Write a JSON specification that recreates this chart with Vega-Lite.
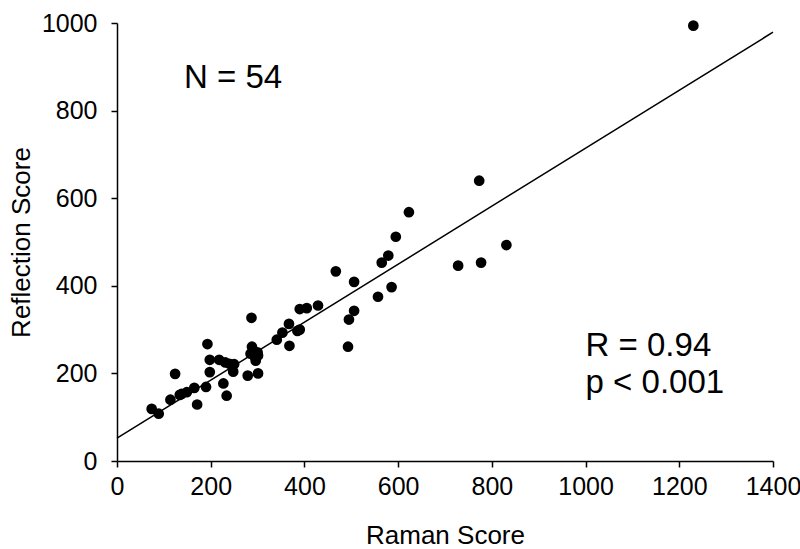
{
  "$schema": "https://vega.github.io/schema/vega-lite/v6.json",
  "autosize": {"type": "none"},
  "padding": {"left": 117, "top": 23, "right": 27, "bottom": 88},
  "width": 656,
  "height": 438,
  "background": "white",
  "config": {
    "view": {"stroke": null},
    "font": "Liberation Sans",
    "axis": {
      "grid": false,
      "domainColor": "black",
      "domainWidth": 1.5,
      "tickColor": "black",
      "tickWidth": 1.5,
      "tickSize": 6,
      "labelColor": "black",
      "labelFont": "Liberation Sans",
      "labelFontSize": 25,
      "titleColor": "black",
      "titleFont": "Liberation Sans",
      "titleFontSize": 26,
      "titleFontWeight": "normal"
    }
  },
  "datasets": {
    "points": [
      {"raman": 1230, "reflection": 994},
      {"raman": 773, "reflection": 640},
      {"raman": 623, "reflection": 568},
      {"raman": 595, "reflection": 512},
      {"raman": 579, "reflection": 469},
      {"raman": 565, "reflection": 453},
      {"raman": 467, "reflection": 433},
      {"raman": 506, "reflection": 409},
      {"raman": 586, "reflection": 397},
      {"raman": 557, "reflection": 375},
      {"raman": 728, "reflection": 446},
      {"raman": 777, "reflection": 453},
      {"raman": 831, "reflection": 493},
      {"raman": 506, "reflection": 343},
      {"raman": 495, "reflection": 323},
      {"raman": 493, "reflection": 261},
      {"raman": 429, "reflection": 355},
      {"raman": 405, "reflection": 349},
      {"raman": 390, "reflection": 347},
      {"raman": 367, "reflection": 313},
      {"raman": 353, "reflection": 293},
      {"raman": 385, "reflection": 297},
      {"raman": 390, "reflection": 300},
      {"raman": 341, "reflection": 277},
      {"raman": 368, "reflection": 263},
      {"raman": 287, "reflection": 327},
      {"raman": 288, "reflection": 261},
      {"raman": 285, "reflection": 245},
      {"raman": 301, "reflection": 241},
      {"raman": 294, "reflection": 238},
      {"raman": 300, "reflection": 248},
      {"raman": 296, "reflection": 229},
      {"raman": 301, "reflection": 200},
      {"raman": 279, "reflection": 195},
      {"raman": 193, "reflection": 267},
      {"raman": 198, "reflection": 231},
      {"raman": 198, "reflection": 203},
      {"raman": 218, "reflection": 231},
      {"raman": 231, "reflection": 225},
      {"raman": 240, "reflection": 222},
      {"raman": 250, "reflection": 221},
      {"raman": 248, "reflection": 204},
      {"raman": 227, "reflection": 177},
      {"raman": 234, "reflection": 149},
      {"raman": 190, "reflection": 169},
      {"raman": 165, "reflection": 167},
      {"raman": 171, "reflection": 129},
      {"raman": 124, "reflection": 199},
      {"raman": 138, "reflection": 153},
      {"raman": 134, "reflection": 151},
      {"raman": 149, "reflection": 157},
      {"raman": 114, "reflection": 140},
      {"raman": 74, "reflection": 119},
      {"raman": 89, "reflection": 108}
    ],
    "fit": [
      {"raman": 0, "reflection": 52},
      {"raman": 1400, "reflection": 979}
    ],
    "labels": [
      {"raman": 143, "reflection": 852, "text": "N = 54"},
      {"raman": 1000, "reflection": 240, "text": "R = 0.94"},
      {"raman": 1000, "reflection": 156, "text": "p < 0.001"}
    ]
  },
  "encoding": {
    "x": {
      "field": "raman",
      "type": "quantitative",
      "scale": {"domain": [0, 1400], "nice": false},
      "axis": {"title": "Raman Score", "format": "d", "values": [0, 200, 400, 600, 800, 1000, 1200, 1400], "labelPadding": 7, "titlePadding": 23, "labelFlush": false}
    },
    "y": {
      "field": "reflection",
      "type": "quantitative",
      "scale": {"domain": [0, 1000], "nice": false},
      "axis": {"title": "Reflection Score", "format": "d", "values": [0, 200, 400, 600, 800, 1000], "labelPadding": 14, "titlePadding": 7, "labelFlush": false}
    }
  },
  "layer": [
    {
      "data": {"name": "fit"},
      "mark": {"type": "line", "color": "black", "strokeWidth": 1.5}
    },
    {
      "data": {"name": "points"},
      "mark": {"type": "point", "shape": "circle", "filled": true, "color": "black", "opacity": 1, "size": 115}
    },
    {
      "data": {"name": "labels"},
      "mark": {"type": "text", "align": "left", "baseline": "alphabetic", "fontSize": 33, "font": "Liberation Sans", "color": "black"},
      "encoding": {"text": {"field": "text"}}
    }
  ]
}
